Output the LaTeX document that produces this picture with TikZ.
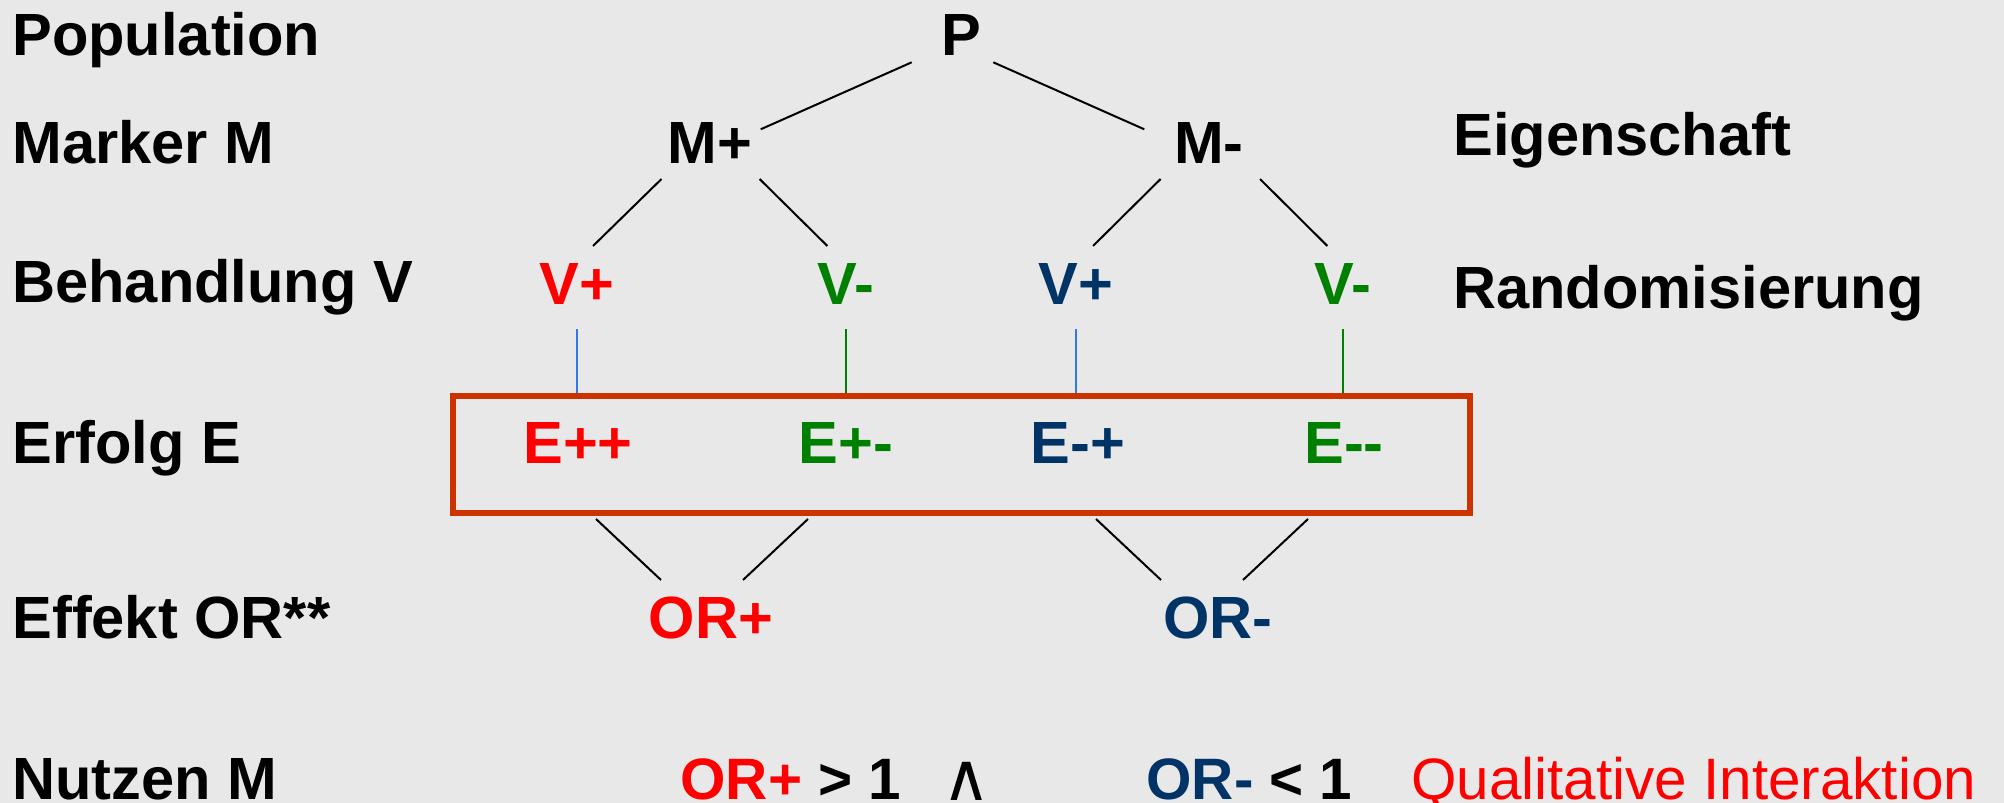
\documentclass[tikz,border=0pt]{standalone}
\usepackage{fontspec}
\setmainfont{Liberation Sans}
\newfontfamily\symbolfont{DejaVu Sans}
\usepackage{tikz}
\usetikzlibrary{calc}
\usetikzlibrary{fit}
\definecolor{bgrey}{HTML}{E8E8E8}
\definecolor{plusred}{HTML}{FF0000}
\definecolor{minusgreen}{HTML}{008000}
\definecolor{navy}{HTML}{003366}
\definecolor{boxred}{HTML}{CC3300}
\definecolor{lineblue}{HTML}{3377EE}
\newcommand{\labelsize}{\fontsize{29.8pt}{36pt}\selectfont}
\newcommand{\benefitsize}{\fontsize{29.2pt}{35pt}\selectfont}
\tikzset{
  rowlabel/.style={anchor=base west, inner sep=0pt, font=\labelsize\bfseries},
  item/.style={anchor=base, inner sep=0pt, font=\labelsize\bfseries},
  link/.style={black, line width=1pt},
}

\begin{document}
\begin{tikzpicture}[x=0.5pt,y=-0.5pt]
\fill[bgrey] (0,0) rectangle (2004,803);
\useasboundingbox (0,0) rectangle (2004,803);

% row labels
\node[rowlabel] (pop) at (12,55) {Population};
\node[rowlabel] (mark) at (12,163) {Marker M};
\node[rowlabel] (treat) at (12,302) {Behandlung V};
\node[rowlabel] (succ) at (12,463) {Erfolg E};
\node[rowlabel] (eff) at (12,638) {Effekt OR**};
\node[rowlabel] (use) at (12,799) {Nutzen M};
\node[rowlabel] (prop) at (1453,155) {Eigenschaft};
\node[rowlabel] (rand) at (1453,308) {Randomisierung};

% tree
\node[item] (P) at (961,55) {P};
\node[item] (Mp) at (710,163) {M+};
\node[item] (Mm) at (1209,163) {M-};
\node[item, plusred] (Vp1) at (577,304) {V+};
\node[item, minusgreen] (Vm1) at (846,304) {V-};
\node[item, navy] (Vp2) at (1076,304) {V+};
\node[item, minusgreen] (Vm2) at (1343,304) {V-};
\node[item, plusred] (Epp) at (578,463) {E++};
\node[item, minusgreen] (Epm) at (846,463) {E+-};
\node[item, navy] (Emp) at (1078,463) {E-+};
\node[item, minusgreen] (Emm) at (1344,463) {E-{}-};
\node[item, plusred] (ORp) at (711,638) {OR+};
\node[item, navy] (ORm) at (1218,638) {OR-};
\node (box) [draw=boxred, line width=3pt, inner sep=0pt, fit={(452.5,396) (1469.5,513)}] {};

% P -> M
\draw[link] ($(P.base)+(-49.3,7.3)$) -- ($(Mp.base)+(50.7,-33.7)$);
\draw[link] ($(P.base)+(32.3,7.3)$) -- ($(Mm.base)+(-64.7,-33.7)$);
% M -> V
\draw[link] ($(Mp.base)+(-48.5,16)$) -- ($(Vp1.base)+(16,-58)$);
\draw[link] ($(Mp.base)+(49.6,16)$) -- ($(Vm1.base)+(-18.6,-58)$);
\draw[link] ($(Mm.base)+(-48.4,16)$) -- ($(Vp2.base)+(17,-58)$);
\draw[link] ($(Mm.base)+(51,16)$) -- ($(Vm2.base)+(-15.6,-58)$);
% V -> E
\foreach \v/\c in {Vp1/lineblue,Vm1/minusgreen,Vp2/lineblue,Vm2/minusgreen}
  \draw[\c, line width=1pt] ($(\v.base)+(0,25)$) -- (\v |- box.north);
% E -> OR
\draw[link] ($(Epp |- box.south)+(18,3)$) -- ($(ORp.base)+(-50,-58)$);
\draw[link] ($(Epm |- box.south)+(-38,3)$) -- ($(ORp.base)+(32,-58)$);
\draw[link] ($(Emp |- box.south)+(18,3)$) -- ($(ORm.base)+(-57,-58)$);
\draw[link] ($(Emm |- box.south)+(-36,3)$) -- ($(ORm.base)+(25,-58)$);

% benefit
\node[rowlabel, font=\benefitsize\bfseries] (orp) at (680,799) {\textcolor{plusred}{OR+} > 1};
\node[item, font=\fontsize{33pt}{38pt}\symbolfont] (and) at (967,800) {∧};
\node[rowlabel, font=\benefitsize\bfseries] (orm) at (1146,799) {\textcolor{navy}{OR-} < 1};
\node[rowlabel, font=\benefitsize, plusred] (qual) at (1411,799) {Qualitative Interaktion};
\end{tikzpicture}
\end{document}
